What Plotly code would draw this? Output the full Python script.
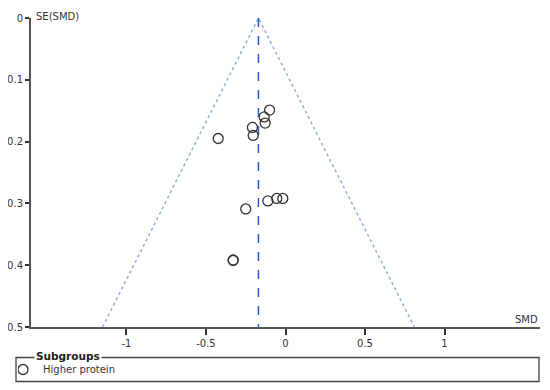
import plotly.graph_objects as go

# study estimates
smd = [-0.10, -0.134, -0.128, -0.208, -0.203, -0.423, -0.25, -0.111, -0.055, -0.017, -0.329, -0.329]
se = [0.149, 0.160, 0.170, 0.177, 0.190, 0.195, 0.309, 0.296, 0.292, 0.292, 0.392, 0.392]
pooled = -0.17
funnel_se = [0.5, 0.0, 0.5]
x_ticks = [-1, -0.5, 0, 0.5, 1]
x_tick_labels = ["-1", "-0.5", "0", "0.5", "1"]
y_ticks = [0, 0.1, 0.2, 0.3, 0.4, 0.5]
y_tick_labels = ["0", "0.1", "0.2", "0.3", "0.4", "0.5"]

W, H = 550, 390
OFF = 8  # page body margin in the browser
ML, MR, MT, MB = 31 - OFF, W - 540 + OFF, 18 - OFF, H - 327 + OFF
PW, PH = W - ML - MR, H - MT - MB


def px(x):
    # page pixel -> paper x
    return (x - OFF - ML) / PW


def py(y):
    # page pixel -> paper y
    return (H - MB - (y - OFF)) / PH


fig = go.Figure()

# pseudo 95% confidence limits
fig.add_trace(go.Scatter(
    x=[pooled - 1.96 * s if i == 0 else pooled + 1.96 * s if i == 2 else pooled
       for i, s in enumerate(funnel_se)],
    y=funnel_se,
    mode='lines',
    line=dict(color='#8fb0d8', width=1.5, dash='dot'),
    showlegend=False, hoverinfo='skip'
))
fig.add_trace(go.Scatter(
    x=[pooled, pooled], y=[0, 0.5],
    mode='lines',
    line=dict(color='#2f55cc', width=1.5, dash='dash'),
    showlegend=False, hoverinfo='skip'
))
fig.add_trace(go.Scatter(
    x=smd, y=se,
    mode='markers',
    marker=dict(symbol='circle-open', size=10, color='#333333', line=dict(width=1.3)),
    name='Higher protein'
))

fig.update_layout(
    width=W, height=H,
    margin=dict(l=ML, r=MR, t=MT, b=MB, autoexpand=False),
    plot_bgcolor='white', paper_bgcolor='white',
    font=dict(family='DejaVu Sans', size=10, color='#333333'),
    legend=dict(
        xref='container', yref='container',
        x=(18 - OFF) / W, y=1 - (355 - OFF) / H, xanchor='left', yanchor='top',
        bgcolor='rgba(0,0,0,0)', itemwidth=30, indentation=-15,
        font=dict(size=10, color='#333333')
    ),
)
fig.update_xaxes(
    range=[-1.6, 1.6], tickvals=x_ticks, ticktext=x_tick_labels, automargin=False,
    showgrid=False, zeroline=False, showline=True, linecolor='#555555', linewidth=2,
    ticks='outside', ticklen=6, tickcolor='#333333', tickwidth=1.5
)
fig.update_yaxes(
    range=[0.5, 0], tickvals=y_ticks, ticktext=y_tick_labels, automargin=False,
    showgrid=False, zeroline=False, showline=True, linecolor='#555555', linewidth=2,
    ticks='outside', ticklen=4, tickcolor='#333333', tickwidth=1.5
)

# axis titles
fig.add_annotation(text='SE(SMD)', x=px(34), y=py(9), xref='paper', yref='paper',
                   xanchor='left', yanchor='top', showarrow=False)
fig.add_annotation(text='SMD', x=px(540), y=py(319), xref='paper', yref='paper',
                   xanchor='right', yanchor='middle', showarrow=False)

# subgroup box
fig.add_shape(type='rect', xref='paper', yref='paper',
              x0=px(16), x1=px(539), y0=py(357.5), y1=py(381.5),
              line=dict(color='#444444', width=1.3))
fig.add_annotation(text='<b>Subgroups</b>', x=px(34), y=py(356), xref='paper', yref='paper',
                   xanchor='left', yanchor='middle', showarrow=False,
                   bgcolor='white', borderpad=1, font=dict(size=10.5, color='#222222'))

fig.write_html("out.html")
